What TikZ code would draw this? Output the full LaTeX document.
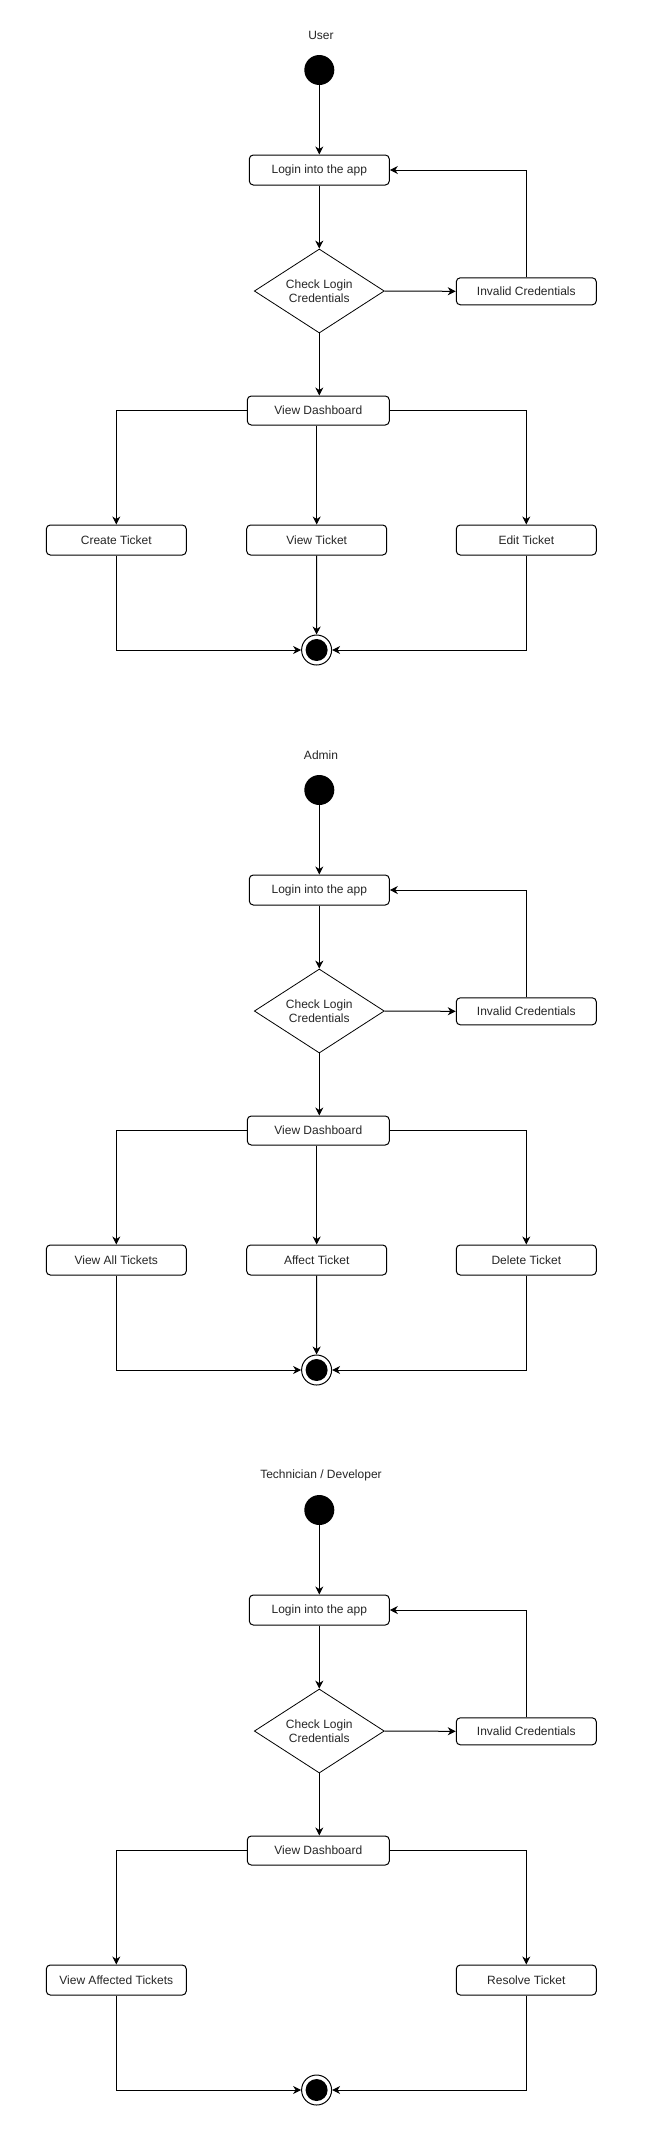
\documentclass[tikz,border=0pt]{standalone}
\usepackage{fontspec}
\setmainfont{Liberation Sans}
\usetikzlibrary{arrows.meta,shapes.geometric}
\tikzset{
  txt/.style={font=\fontsize{12}{14}\selectfont, text=black!85},
  box/.style={txt, draw, rounded corners=4pt, line width=1pt, minimum width=140pt, minimum height=30pt, inner sep=0pt},
  decision/.style={txt, draw, diamond, aspect=1.55, minimum width=130pt, minimum height=84pt, inner sep=0pt, line width=0.8pt, align=center},
  startnode/.style={circle, fill=black, minimum size=30pt, inner sep=0pt},
  endnode/.style={circle, draw, line width=1pt, minimum size=30pt, inner sep=0pt},
  heading/.style={txt},
  flow/.style={line width=1pt, -{Stealth[length=8pt,width=8pt,inset=2.5pt]}}
}
\newcommand\actcore[3]{%
\begin{scope}[shift={(0,#2)}]
\node[heading] (#1title) at (321,35) {#3};
\node[startnode] (#1start) at (319.3,70) {};
\node[box] (#1login) at (319.3,170) {Login into the app};
\node[decision] (#1check) at (319.3,291) {Check Login\\Credentials};
\node[box, minimum height=27pt] (#1invalid) at (526.3,291.3) {Invalid Credentials};
\node[box, minimum width=142pt, minimum height=29pt] (#1dash) at (318.3,410.5) {View Dashboard};
\node[endnode] (#1end) at (316.6,650) {};
\fill (#1end.center) circle (11pt);
\end{scope}
\draw[flow] (#1start) -- (#1login);
\draw[flow] (#1login) -- (#1check);
\draw[flow] (#1check) -- (#1dash.north -| #1check.south);
\draw[flow] (#1check.east) -- (#1invalid.west);
\draw[flow] (#1invalid.north) |- (#1login.east);
}
\newcommand\actleaves[4]{%
\begin{scope}[shift={(0,#2)}]
\node[box] (#1left) at (116.3,540) {#3};
\node[box] (#1right) at (526.3,540) {#4};
\end{scope}
\draw[flow] (#1dash.west) -| (#1left.north);
\draw[flow] (#1dash.east) -| (#1right.north);
\draw[flow] (#1left.south) |- (#1end.west);
\draw[flow] (#1right.south) |- (#1end.east);
}
\newcommand\actmid[3]{%
\begin{scope}[shift={(0,#2)}]
\node[box] (#1mid) at (316.7,540) {#3};
\end{scope}
\draw[flow] (#1mid.north |- #1dash.south) -- (#1mid.north);
\draw[flow] (#1mid.south) -- (#1end.north);
}
\begin{document}
\begin{tikzpicture}[x=1pt,y=-1pt]
\fill[white] (0,0) rectangle (645,2145);
\useasboundingbox (0,0) rectangle (645,2145);
\actcore{u}{0}{User}
\actleaves{u}{0}{Create Ticket}{Edit Ticket}
\actmid{u}{0}{View Ticket}
\actcore{a}{720}{Admin}
\actleaves{a}{720}{View All Tickets}{Delete Ticket}
\actmid{a}{720}{Affect Ticket}
\actcore{t}{1440}{Technician / Developer}
\actleaves{t}{1440}{View Affected Tickets}{Resolve Ticket}
\end{tikzpicture}
\end{document}
